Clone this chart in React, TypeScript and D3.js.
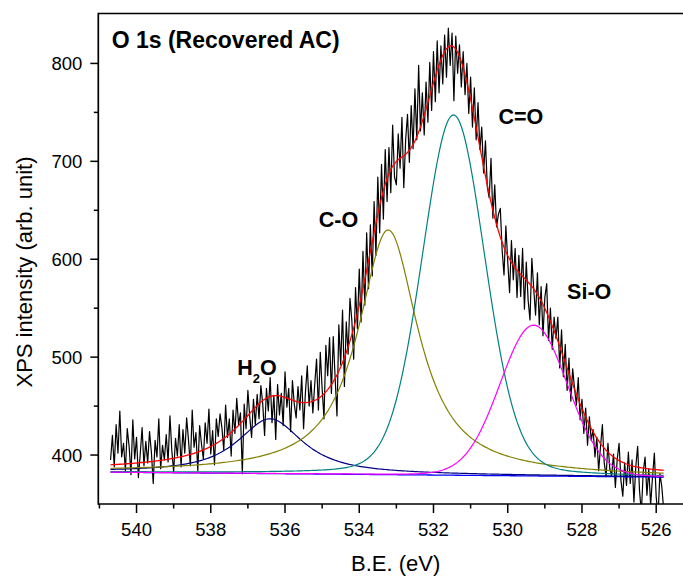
import React from "react";
import * as d3 from "d3";

// ---- Data ----
// Raw O 1s counts, binding energy from 540.70 eV down to 525.80 eV in 0.05 eV steps
const rawStartBE = 540.7;
const rawStepBE = 0.05;
const rawCounts = [
  395, 420, 388, 431, 402, 445, 398, 412, 384, 427,
  409, 380, 436, 396, 418, 377, 401, 428, 389, 414,
  392, 424, 403, 371, 415, 398, 437, 386, 410, 395,
  421, 393, 440, 405, 383, 417, 399, 431, 388, 426,
  402, 438, 415, 389, 446, 408, 423, 384, 430, 411,
  396, 433, 412, 447, 401, 425, 390, 437, 419, 442,
  428, 405, 451, 418, 437, 399, 446, 422, 458, 431,
  443, 381, 452, 427, 466, 439, 418, 457, 431, 462,
  437, 471, 452, 420, 468, 445, 479, 433, 461, 416,
  472, 441, 463, 430, 485, 449, 468, 424, 476, 452,
  438, 470, 446, 481, 427, 464, 491, 450, 476, 443,
  472, 498, 446, 505, 468, 437, 512, 481, 520, 463,
  521, 479, 440, 533, 492, 548, 470, 536, 503, 560,
  538, 498, 571, 529, 590, 536, 608, 553, 627, 570,
  635, 583, 659, 604, 684, 627, 697, 641, 712, 659,
  714, 668, 737, 684, 676, 728, 693, 745, 673, 722,
  748, 699, 757, 713, 774, 722, 798, 731, 770, 727,
  781, 740, 801, 752, 812, 761, 823, 770, 818, 779,
  829, 786, 836, 798, 831, 762, 828, 790, 819, 776,
  812, 768, 800, 749, 786, 735, 775, 722, 760, 712,
  735, 688, 721, 674, 663, 703, 642, 676, 633, 646,
  652, 609, 584, 634, 598, 566, 619, 579, 611, 561,
  604, 562, 611, 549, 597, 558, 538, 601, 570, 543,
  586, 533, 572, 522, 561, 575, 517, 550, 508, 541,
  519, 541, 489, 528, 480, 513, 466, 499, 455, 488,
  468, 451, 479, 436, 457, 422, 448, 410, 439, 415,
  426, 398, 418, 384, 409, 431, 392, 378, 412, 386,
  379, 401, 367, 396, 412, 374, 358, 392, 369, 403,
  371, 395, 352, 388, 409, 364, 341, 383, 398, 359,
  386, 349, 377, 402, 357, 338, 381, 368, 345,
];

// Fitted components (pseudo-Voigt parameters)
const peakNames = ["H2O", "C-O", "C=O", "Si-O"];
const peakCenters = [536.4, 533.22, 531.46, 529.3];
const peakHeights = [56, 250, 368, 154];
const peakFwhm = [2.1, 1.95, 2.0, 2.15];
const peakLorentzFraction = [0.9, 0.95, 0.15, 0.05];

// Background: value at high-BE end and at low-BE end
const baselineEnds = [382.5, 377.5];

// Annotation labels and their anchor (BE, intensity)
const labelBE = [537.29, 535.09, 530.25, 528.4];
const labelIntensity = [482, 633, 738, 559];

// Axes
const xMajorTicks = [540, 538, 536, 534, 532, 530, 528, 526];
const xMinorTicks = [541, 539, 537, 535, 533, 531, 529, 527];
const yMajorTicks = [400, 500, 600, 700, 800];
const yMinorTicks = [450, 550, 650, 750];
const titleText = "O 1s (Recovered AC)";
const xTitle = "B.E. (eV)";
const yTitle = "XPS intensity (arb. unit)";

// ---- Styles ----
const peakColors = ["#000080", "#808000", "#008080", "#ff00ff"];
const font = "'Liberation Sans', Arial, Helvetica, sans-serif";

export default function App() {
  const W = 683;
  const H = 578;
  const left = 98.3;
  const right = 685.9;
  const top = 13.5;
  const bottom = 504;

  const x = d3.scaleLinear().domain([541.03, 525.2]).range([left, right]);
  const y = d3.scaleLinear().domain([350, 851]).range([bottom, top]);

  const be = rawCounts.map((_, i) => rawStartBE - i * rawStepBE);
  const beEnd = be[be.length - 1];

  const baseline = (e: number) =>
    baselineEnds[1] + ((baselineEnds[0] - baselineEnds[1]) * (e - beEnd)) / (rawStartBE - beEnd);

  const pv = (e: number, k: number) => {
    const d = (e - peakCenters[k]) / peakFwhm[k];
    const L = 1 / (1 + 4 * d * d);
    const G = Math.exp(-4 * Math.LN2 * d * d);
    const m = peakLorentzFraction[k];
    return peakHeights[k] * (m * L + (1 - m) * G);
  };

  const line = d3
    .line<[number, number]>()
    .x((d) => x(d[0]))
    .y((d) => y(d[1]));

  const rawPath = line(be.map((e, i) => [e, rawCounts[i]] as [number, number]));
  const basePath = line(be.map((e) => [e, baseline(e)] as [number, number]));
  const compPaths = peakNames.map((_, k) =>
    line(be.map((e) => [e, baseline(e) + pv(e, k)] as [number, number]))
  );
  const envPath = line(
    be.map(
      (e) =>
        [e, baseline(e) + peakNames.reduce((s, _n, k) => s + pv(e, k), 0)] as [number, number]
    )
  );

  const axisW = 1.7;

  return (
    <svg
      width={W}
      height={H}
      style={{ position: "absolute", left: 0, top: 0, background: "#fff" }}
      fontFamily={font}
    >
      <defs>
        <clipPath id="plotClip">
          <rect x={left} y={top} width={right - left} height={bottom - top} />
        </clipPath>
      </defs>

      <g clipPath="url(#plotClip)">
        <path d={rawPath || ""} fill="none" stroke="#000" strokeWidth={1.2} strokeLinejoin="round" />
        <path d={basePath || ""} fill="none" stroke="#0000ff" strokeWidth={1.3} />
        {compPaths.map((p, k) => (
          <path key={k} d={p || ""} fill="none" stroke={peakColors[k]} strokeWidth={1.2} />
        ))}
        <path d={envPath || ""} fill="none" stroke="#ff0000" strokeWidth={1.3} />
      </g>

      {/* frame */}
      <line x1={left} x2={right} y1={top} y2={top} stroke="#000" strokeWidth={axisW} />
      <line x1={left} x2={right} y1={bottom} y2={bottom} stroke="#000" strokeWidth={axisW} />
      <line x1={left} x2={left} y1={top - 0.8} y2={bottom + 0.8} stroke="#000" strokeWidth={axisW} />
      <line x1={right} x2={right} y1={top} y2={bottom} stroke="#000" strokeWidth={axisW} />

      {/* x ticks */}
      {xMajorTicks.map((t) => (
        <g key={"xm" + t}>
          <line x1={x(t)} x2={x(t)} y1={bottom} y2={bottom + 9} stroke="#000" strokeWidth={1.5} />
          <text x={x(t)} y={bottom + 32} textAnchor="middle" fontSize={18.5} fill="#000">
            {t}
          </text>
        </g>
      ))}
      {xMinorTicks.map((t) => (
        <line key={"xn" + t} x1={x(t)} x2={x(t)} y1={bottom} y2={bottom + 4.5} stroke="#000" strokeWidth={1.5} />
      ))}

      {/* y ticks */}
      {yMajorTicks.map((t) => (
        <g key={"ym" + t}>
          <line x1={left} x2={left - 8} y1={y(t)} y2={y(t)} stroke="#000" strokeWidth={1.5} />
          <text x={left - 16} y={y(t)} dy="0.35em" textAnchor="end" fontSize={18.5} fill="#000">
            {t}
          </text>
        </g>
      ))}
      {yMinorTicks.map((t) => (
        <line key={"yn" + t} x1={left} x2={left - 4.5} y1={y(t)} y2={y(t)} stroke="#000" strokeWidth={1.5} />
      ))}

      {/* axis titles */}
      <text x={395.7} y={571} textAnchor="middle" fontSize={22} fill="#000">
        {xTitle}
      </text>
      <text
        transform={`translate(31.7, 272) rotate(-90)`}
        textAnchor="middle"
        fontSize={22}
        fill="#000"
      >
        {yTitle}
      </text>

      {/* chart title */}
      <text x={111.7} y={48.3} fontSize={23} fontWeight="bold" fill="#000">
        {titleText}
      </text>

      {/* peak labels */}
      {peakNames.map((n, k) =>
        n === "H2O" ? (
          <text key={n} x={x(labelBE[k])} y={y(labelIntensity[k])} fontSize={21.5} fontWeight="bold" fill="#000">
            H
            <tspan fontSize={13} dy={8}>
              2
            </tspan>
            <tspan dy={-8}>O</tspan>
          </text>
        ) : (
          <text key={n} x={x(labelBE[k])} y={y(labelIntensity[k])} fontSize={21.5} fontWeight="bold" fill="#000">
            {n}
          </text>
        )
      )}
    </svg>
  );
}
